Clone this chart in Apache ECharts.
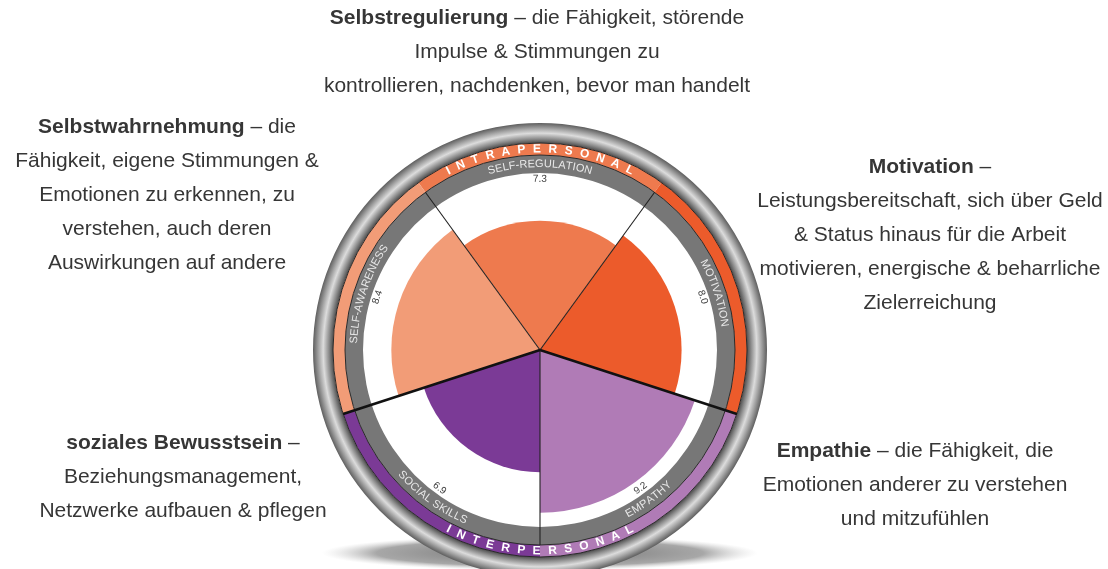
<!DOCTYPE html>
<html>
<head>
<meta charset="utf-8">
<script src="https://cdn.jsdelivr.net/npm/echarts@6/dist/echarts.min.js"></script>
<style>
html, body { margin: 0; padding: 0; background: #fff; }
#main { width: 1108px; height: 569px; }
</style>
</head>
<body>
<div id="main"></div>
<script>
// data
var categories = ['SELF-REGULATION', 'MOTIVATION', 'EMPATHY', 'SOCIAL SKILLS', 'SELF-AWARENESS'];
var scores = [7.3, 8.0, 9.2, 6.9, 8.4];
var colors = ['#EE7A4E', '#EC5B2B', '#B07BB6', '#7B3A96', '#F29C77'];
var groupOf = [0, 0, 1, 1, 0];
var groups = ['INTRAPERSONAL', 'INTERPERSONAL'];

var noteTitles = ['Selbstregulierung', 'Selbstwahrnehmung', 'Motivation', 'soziales Bewusstsein', 'Empathie'];
var noteLines = [
  [' – die Fähigkeit, störende', 'Impulse & Stimmungen zu', 'kontrollieren, nachdenken, bevor man handelt'],
  [' – die', 'Fähigkeit, eigene Stimmungen &', 'Emotionen zu erkennen, zu', 'verstehen, auch deren', 'Auswirkungen auf andere'],
  [' –', 'Leistungsbereitschaft, sich über Geld', '& Status hinaus für die Arbeit', 'motivieren, energische & beharrliche', 'Zielerreichung'],
  [' –', 'Beziehungsmanagement,', 'Netzwerke aufbauen & pflegen'],
  [' – die Fähigkeit, die', 'Emotionen anderer zu verstehen', 'und mitzufühlen']
];
// where each note block sits (x = centre, y = top)
var noteLayout = [[537, 1], [167, 110], [930, 150], [183, 426], [915, 434]];

// geometry
var CX = 540, CY = 350;
var R_BAR = 177, R_GREY = 195, R_BAND = 207, R_RING = 227;
var START = 126;
var STEP = 360 / categories.length;
var FONT = '"Liberation Sans", Arial, Helvetica, sans-serif';
var RAD = Math.PI / 180;

var ctx = document.createElement('canvas').getContext('2d');

function arcText(str, deg, r, size, weight, color, gap) {
  ctx.font = weight + ' ' + size + 'px ' + FONT;
  var ws = str.split('').map(function (ch) { return ctx.measureText(ch).width; });
  var total = ws.reduce(function (a, b) { return a + b; }, 0) + gap * (str.length - 1);
  var norm = ((deg % 360) + 360) % 360;
  var bottom = norm > 180;
  var dir = bottom ? 1 : -1;
  var a = deg * RAD - dir * total / 2 / r;
  var out = [], pos = 0;
  for (var i = 0; i < str.length; i++) {
    var t = a + dir * (pos + ws[i] / 2) / r;
    pos += ws[i] + gap;
    out.push({
      type: 'text', z: 20,
      x: CX + r * Math.cos(t), y: CY - r * Math.sin(t),
      rotation: bottom ? t + Math.PI / 2 : t - Math.PI / 2,
      style: {
        text: str[i], fontSize: size, fontWeight: weight, fontFamily: FONT,
        fill: color, align: 'center', verticalAlign: 'middle'
      }
    });
  }
  return out;
}

var els = [];

// floor shadow
els.push({
  type: 'circle', z: 0, x: CX, y: 553, scaleY: 0.08,
  shape: { cx: 0, cy: 0, r: 218 },
  style: {
    fill: new echarts.graphic.RadialGradient(0.5, 0.5, 0.5, [
      { offset: 0, color: 'rgba(90,90,90,0.9)' },
      { offset: 0.75, color: 'rgba(130,130,130,0.7)' },
      { offset: 1, color: 'rgba(200,200,200,0)' }
    ])
  }
});

// metal rim
els.push({
  type: 'ring', z: 1,
  shape: { cx: CX, cy: CY, r: R_RING, r0: R_BAND },
  style: {
    fill: new echarts.graphic.RadialGradient(0.5, 0.5, 0.5, [
      { offset: R_BAND / R_RING, color: '#4d4d4d' },
      { offset: 0.93, color: '#8c8c8c' },
      { offset: 0.955, color: '#dcdcdc' },
      { offset: 0.975, color: '#a6a6a6' },
      { offset: 1, color: '#5e5e5e' }
    ])
  }
});

// grey label band
els.push({
  type: 'ring', z: 1,
  shape: { cx: CX, cy: CY, r: R_GREY, r0: R_BAR },
  style: { fill: '#777777' }
});

// coloured group band, one piece per category
categories.forEach(function (c, i) {
  var a0 = START - i * STEP, a1 = a0 - STEP;
  els.push({
    type: 'sector', z: 1,
    shape: { cx: CX, cy: CY, r: R_BAND, r0: R_GREY, startAngle: -a0 * RAD, endAngle: -a1 * RAD, clockwise: true },
    style: { fill: colors[i] }
  });
});

// band outlines
[R_GREY, R_BAND].forEach(function (r) {
  els.push({
    type: 'circle', z: 5,
    shape: { cx: CX, cy: CY, r: r },
    style: { fill: null, stroke: '#2a2a2a', lineWidth: 1 }
  });
});

// sector dividers
categories.forEach(function (c, i) {
  var a = (START - i * STEP) * RAD;
  var prev = groupOf[(i - 1 + categories.length) % categories.length];
  var thick = prev !== groupOf[i];
  var r = thick ? R_BAND : R_GREY;
  els.push({
    type: 'line', z: 10,
    shape: { x1: CX, y1: CY, x2: CX + r * Math.cos(a), y2: CY - r * Math.sin(a) },
    style: { stroke: thick ? '#111' : '#222', lineWidth: thick ? 2.6 : 1.1 }
  });
});

// category names and scores on the grey band
categories.forEach(function (c, i) {
  var mid = START - i * STEP - STEP / 2;
  els = els.concat(arcText(c, mid, 186, 11, 'normal', '#e8e8e8', 0.2));
  els = els.concat(arcText(scores[i].toFixed(1), mid, 171, 10, 'normal', '#3a3a3a', 0));
});

// group names on the coloured band
groups.forEach(function (g, gi) {
  var sx = 0, sy = 0;
  categories.forEach(function (c, i) {
    if (groupOf[i] !== gi) return;
    var m = (START - i * STEP - STEP / 2) * RAD;
    sx += Math.cos(m); sy += Math.sin(m);
  });
  var mid = Math.atan2(sy, sx) / RAD;
  els = els.concat(arcText(g, mid, 201, 12, 'bold', '#ffffff', 7.5));
});

// explanatory notes
noteTitles.forEach(function (t, i) {
  var lines = noteLines[i];
  var txt = '{b|' + t + '}' + lines[0] + '\n' + lines.slice(1).join('\n');
  els.push({
    type: 'text', z: 20,
    x: noteLayout[i][0], y: noteLayout[i][1],
    style: {
      text: txt, fontSize: 21, fontFamily: FONT, fill: '#363636',
      align: 'center', verticalAlign: 'top', lineHeight: 34,
      rich: { b: { fontSize: 21, fontFamily: FONT, fontWeight: 'bold', fill: '#363636', lineHeight: 34 } }
    }
  });
});

var chart = echarts.init(document.getElementById('main'));
chart.setOption({
  animation: false,
  backgroundColor: '#ffffff',
  polar: { center: [CX, CY], radius: [0, R_BAR] },
  angleAxis: {
    type: 'category', data: categories, startAngle: START, clockwise: true,
    axisLine: { show: false }, axisTick: { show: false }, axisLabel: { show: false },
    splitLine: { show: false }
  },
  radiusAxis: {
    type: 'value', min: 0, max: 10,
    axisLine: { show: false }, axisTick: { show: false }, axisLabel: { show: false },
    splitLine: { show: false }
  },
  series: [{
    type: 'bar', coordinateSystem: 'polar', barCategoryGap: '0%', silent: true,
    data: scores.map(function (v, i) { return { value: v, itemStyle: { color: colors[i] } }; })
  }],
  graphic: { elements: els }
});
</script>
</body>
</html>
